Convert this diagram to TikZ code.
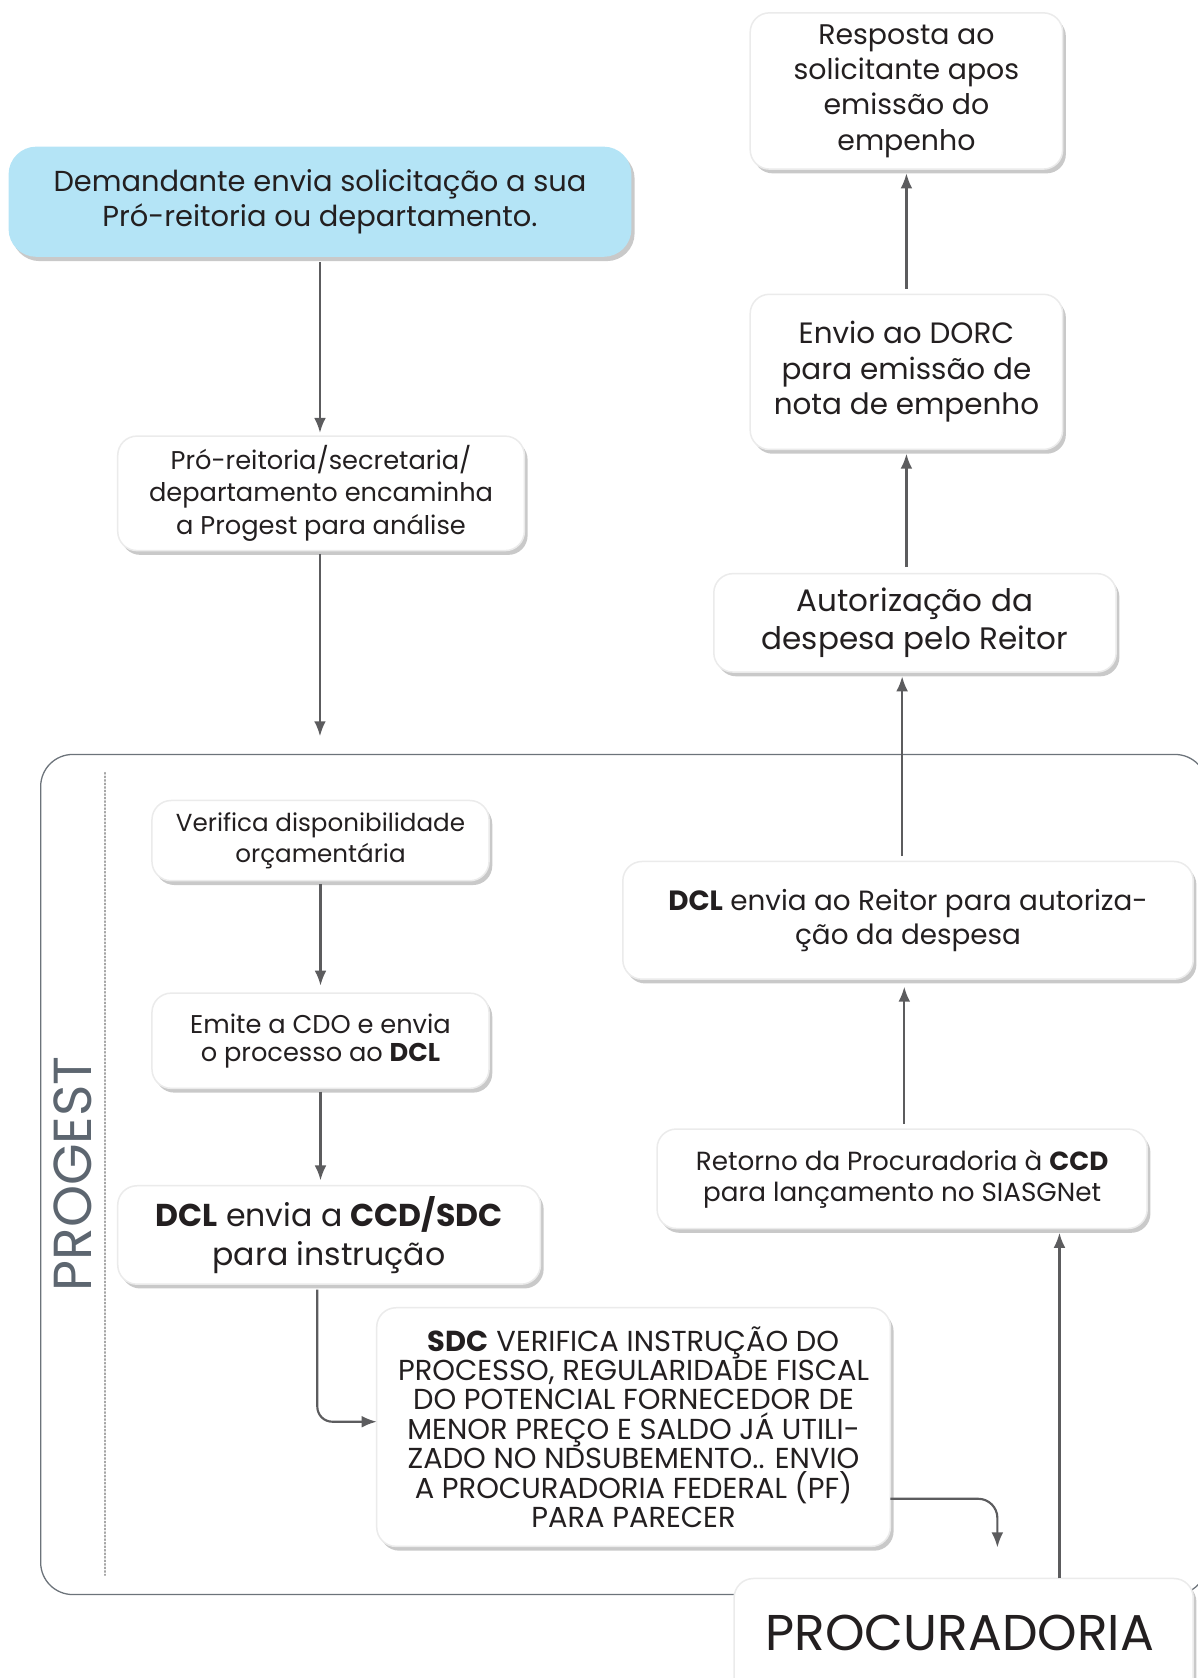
\documentclass[tikz,border=0pt]{standalone}
\usepackage{fontspec}
\setmainfont{Poppins}
\usetikzlibrary{arrows.meta,shadows,calc}
\definecolor{txt}{RGB}{35,31,32}
\definecolor{arrgray}{RGB}{92,92,94}
\definecolor{framegray}{RGB}{108,115,122}
\definecolor{lanegray}{RGB}{93,102,112}
\definecolor{skyfill}{RGB}{180,228,246}
\begin{document}
\begin{tikzpicture}[x=1pt,y=-1pt,
  box/.style={rounded corners=18pt, fill=white, draw=black!8, line width=1.4pt,
    drop shadow={shadow xshift=3pt, shadow yshift=-4pt, opacity=.3, fill=black!70},
    align=center, text=txt, inner sep=0pt, outer sep=0pt},
  arr/.style={draw=arrgray, line width=2pt, -{Latex[length=14pt,width=11pt]}},
  fs/.style 2 args={font=\fontsize{#1}{#2}\selectfont}
]
\useasboundingbox (0,0) rectangle (1119,1568);

% PROGEST lane
\draw[framegray, line width=1.2pt, rounded corners=30pt] (38,705) rectangle (1128,1490);
\draw[black!35, line width=1.3pt, dotted, line cap=round] (98,722) -- (98,1472);
\node[rotate=90, text=lanegray, fs={50}{50}] (lane) at (68,1097) {PROGEST};

% steps
\node[box, fill=skyfill, draw=none, rounded corners=26pt, minimum width=582pt, minimum height=103pt, fs={27}{32}]
  (dem) at (299,188.5) {Demandante envia solicitação a sua\\Pró-reitoria ou departamento.};
\node[box, minimum width=380pt, minimum height=107pt, fs={24}{30}]
  (pro) at (300,461) {Pró-reitoria/secretaria/\\departamento encaminha\\a Progest para análise};
\node[box, minimum width=315pt, minimum height=75pt, fs={23}{29}]
  (ver) at (299.5,785.5) {Verifica disponibilidade\\orçamentária};
\node[box, minimum width=315pt, minimum height=89pt, fs={24}{26}]
  (emi) at (299.5,972.5) {Emite a CDO e envia\\o processo ao \textbf{DCL}};
\node[box, minimum width=395pt, minimum height=92pt, fs={29.5}{36}]
  (dcl) at (307.5,1154) {\textbf{DCL} envia a \textbf{CCD/SDC}\\para instrução};
\node[box, minimum width=480pt, minimum height=223pt, fs={27}{27.5}]
  (sdc) at (592,1333.5) {\textbf{SDC} VERIFICA INSTRUÇÃO DO\\PROCESSO, REGULARIDADE FISCAL\\DO POTENCIAL FORNECEDOR DE\\MENOR PREÇO E SALDO JÁ UTILI-\\ZADO NO NDSUBEMENTO.. ENVIO\\A PROCURADORIA FEDERAL (PF)\\PARA PARECER};
\node[box, minimum width=429pt, minimum height=120pt]
  (proc) at (900.5,1535) {};
\node[text=txt, fs={47}{47}] (proclbl) at (897,1526) {PROCURADORIA};
\node[box, minimum width=458pt, minimum height=93pt, fs={24.5}{29}]
  (ret) at (843,1101.5) {Retorno da Procuradoria à \textbf{CCD}\\para lançamento no SIASGNet};
\node[box, minimum width=533pt, minimum height=110pt, fs={26}{32}]
  (dclr) at (848.5,860) {\textbf{DCL} envia ao Reitor para autoriza-\\ção da despesa};
\node[box, minimum width=376pt, minimum height=92pt, fs={29}{36}]
  (aut) at (855,582) {Autorização da\\despesa pelo Reitor};
\node[box, minimum width=292pt, minimum height=145pt, fs={27.5}{33}]
  (env) at (847,347.5) {Envio ao DORC\\para emissão de\\nota de empenho};
\node[box, minimum width=292pt, minimum height=146pt, fs={26.5}{33}]
  (resp) at (847,85) {Resposta ao\\solicitante apos\\emissão do\\empenho};

% free ends
\coordinate (laneTop) at (299,688);
\coordinate (procTop) at (932,1446);

% connectors
\draw[arr] ($(dem.south)+(0,5)$) -- ($(pro.north)+(-1,-3)$);
\draw[arr] ($(pro.south)+(-1,3)$) -- (laneTop);
\draw[arr] ($(ver.south)+(0,3)$) -- ($(emi.north)+(0,-7)$);
\draw[arr] ($(emi.south)+(0,3)$) -- ($(dcl.north)+(-8,-5)$);
\draw[arr, rounded corners=14pt] ($(dcl.south)+(-11,5)$) |- ($(sdc.west)+(0,-5)$);
\draw[arr, rounded corners=18pt] ($(sdc.east)+(0,67)$) -| (procTop);
\draw[arr] ($(proc.north)+(89.5,0)$) -- ($(ret.south)+(147,4)$);
\draw[arr] ($(ret.north)+(2,-5)$) -- ($(dclr.south)+(-3.5,7)$);
\draw[arr] ($(dclr.north)+(-5.5,-5)$) -- ($(aut.south)+(-12,4)$);
\draw[arr] ($(aut.north)+(-8,-6)$) -- ($(env.south)+(0,4)$);
\draw[arr] ($(env.north)+(0,-5)$) -- ($(resp.south)+(0,4)$);
\end{tikzpicture}
\end{document}
